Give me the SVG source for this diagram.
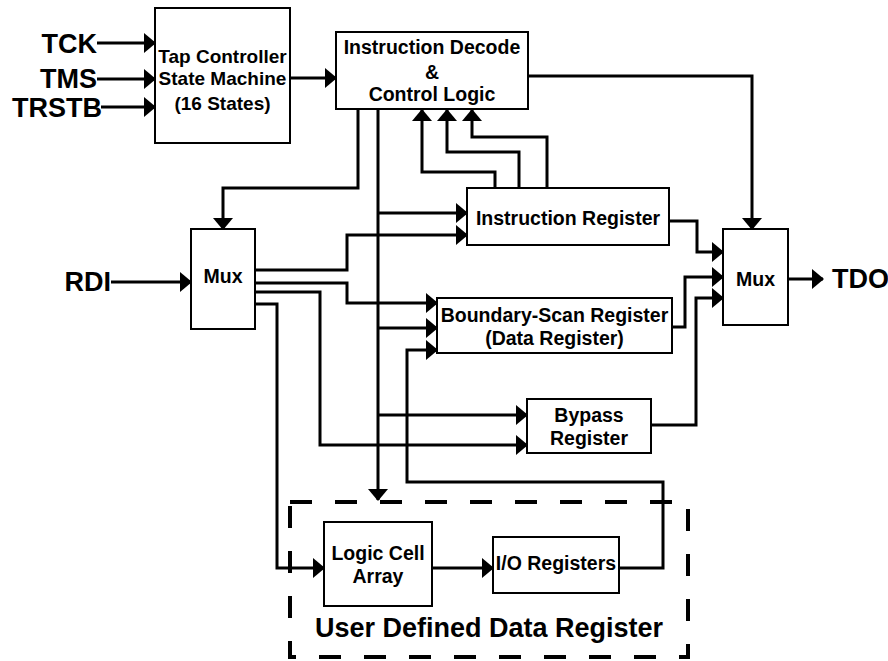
<svg xmlns="http://www.w3.org/2000/svg" width="888" height="661" viewBox="0 0 888 661">
<defs>
<style>
.c{fill:none;stroke:#000;stroke-width:3;stroke-linejoin:miter;marker-end:url(#ah)}
.n{fill:none;stroke:#000;stroke-width:3}
.b{fill:#fff;stroke:#000;stroke-width:2}
.t{font-family:"Liberation Sans",Arial,Helvetica,sans-serif;font-weight:bold;font-size:19.5px;fill:#000;text-anchor:middle}
.big{font-family:"Liberation Sans",Arial,Helvetica,sans-serif;font-weight:bold;font-size:27px;fill:#000}
</style>
<marker id="ah" markerUnits="userSpaceOnUse" markerWidth="12" markerHeight="20" viewBox="0 0 12 20" refX="11" refY="10" orient="auto">
<path d="M0,0 L12,10 L0,20 z" fill="#000"/>
</marker>
</defs>
<rect width="888" height="661" fill="#fff"/>
<g id="connectors">
<path class="c" d="M97,43 H155"/>
<path class="c" d="M97,79 H155"/>
<path class="c" d="M101,107 H155"/>
<path class="c" d="M290,78 H336"/>
<path class="c" d="M358,109 V188 H223 V229"/>
<path class="c" d="M378,109 V500"/>
<path class="c" d="M495,188 V172 H422 V110"/>
<path class="c" d="M519,188 V152 H447 V110"/>
<path class="c" d="M547,188 V137 H472 V110"/>
<path class="c" d="M528,76 H752 V229"/>
<path class="c" d="M111,282 H191"/>
<path class="c" d="M255,270 H347 V235 H467"/>
<path class="c" d="M255,283 H347 V303 H437"/>
<path class="c" d="M255,292 H320 V445 H527"/>
<path class="c" d="M253,304 H277 V568 H324"/>
<path class="c" d="M378,213 H467"/>
<path class="c" d="M378,328 H437"/>
<path class="c" d="M378,415 H527"/>
<path class="c" d="M619,568 H663 V482 H407 V350 H437"/>
<path class="c" d="M432,568 H493"/>
<path class="c" d="M669,221 H697 V252 H723"/>
<path class="c" d="M672,327 H685 V277 H723"/>
<path class="c" d="M651,425 H696 V298 H723"/>
<path class="c" d="M788,279 H823"/>
</g>
<g id="labels">
<text class="big" x="97" y="53" text-anchor="end">TCK</text>
<text class="big" x="97" y="88" text-anchor="end">TMS</text>
<text class="big" x="102" y="117" text-anchor="end">TRSTB</text>
<text class="big" x="111" y="291" text-anchor="end">RDI</text>
<text class="big" x="832" y="288">TDO</text>
</g>
<g id="tap">
<rect class="b" x="155" y="8" width="135" height="135"/>
<text class="t" x="222.5" y="63" style="font-size:19px">Tap Controller</text>
<text class="t" x="222.5" y="85" style="font-size:19px">State Machine</text>
<text class="t" x="222.5" y="110" style="font-size:19px">(16 States)</text>
</g>
<g id="decode">
<rect class="b" x="336" y="32" width="192" height="77"/>
<text class="t" x="432" y="54">Instruction Decode</text>
<text class="t" x="432" y="79">&amp;</text>
<text class="t" x="432" y="101">Control Logic</text>
</g>
<g id="mux-in">
<rect class="b" x="191" y="229" width="64" height="100"/>
<text class="t" x="223" y="283">Mux</text>
</g>
<g id="ir">
<rect class="b" x="467" y="188" width="202" height="57"/>
<text class="t" x="568" y="225">Instruction Register</text>
</g>
<g id="bsr">
<rect class="b" x="437" y="298" width="235" height="55"/>
<text class="t" x="554.5" y="322">Boundary-Scan Register</text>
<text class="t" x="554.5" y="345">(Data Register)</text>
</g>
<g id="bypass">
<rect class="b" x="527" y="399" width="124" height="54"/>
<text class="t" x="589" y="422">Bypass</text>
<text class="t" x="589" y="445">Register</text>
</g>
<g id="mux-out">
<rect class="b" x="723" y="229" width="65" height="96"/>
<text class="t" x="755.5" y="286">Mux</text>
</g>
<g id="user-defined">
<rect x="290" y="502" width="398" height="155" fill="none" stroke="#000" stroke-width="4" stroke-dasharray="22 23"/>
<text class="big" x="489" y="637" text-anchor="middle">User Defined Data Register</text>
</g>
<g id="lca">
<rect class="b" x="324" y="522" width="108" height="84"/>
<text class="t" x="378" y="560">Logic Cell</text>
<text class="t" x="378" y="583">Array</text>
</g>
<g id="io">
<rect class="b" x="493" y="537" width="126" height="56"/>
<text class="t" x="556" y="570">I/O Registers</text>
</g>
</svg>
